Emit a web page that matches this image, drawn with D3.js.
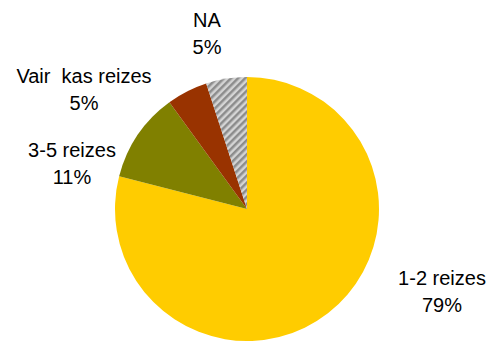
<!DOCTYPE html>
<html>
<head>
<meta charset="utf-8">
<script src="https://cdn.jsdelivr.net/npm/d3@7/dist/d3.min.js"></script>
<style>
  html, body { margin: 0; padding: 0; background: #fff; }
  svg { display: block; }
  text { font-family: "Liberation Sans", Arial, sans-serif; fill: #000; }
</style>
</head>
<body>
<svg id="chart" width="490" height="344"></svg>
<script>
// Answer categories, in drawing order (clockwise from 12 o'clock)
const categories = ["1-2 reizes", "3-5 reizes", "Vair\u00a0 kas reizes", "NA"];
// Share of answers, percent
const values = [79, 11, 5, 5];
const colors = ["#FFCC00", "#808000", "#993300", "url(#hatch)"];
// Label anchor points (centre of the two-line label, baseline of first line)
const labelPos = [[442, 285], [72, 157], [84, 83], [207, 27]];

const svg = d3.select("#chart");
const cx = 247, cy = 209, r = 132;

// Grey diagonal hatch for the NA slice
const defs = svg.append("defs");
const pat = defs.append("pattern")
  .attr("id", "hatch")
  .attr("patternUnits", "userSpaceOnUse")
  .attr("width", 5).attr("height", 5)
  .attr("patternTransform", "rotate(45)");
pat.append("rect").attr("width", 5).attr("height", 5).attr("fill", "#d4d4d4");
pat.append("rect").attr("width", 2.5).attr("height", 5).attr("fill", "#8c8c8c");

const pie = d3.pie().sort(null).value(d => d)
  .startAngle(0).endAngle(2 * Math.PI);
const arc = d3.arc().innerRadius(0).outerRadius(r);

const g = svg.append("g").attr("transform", `translate(${cx},${cy})`);
g.selectAll("path")
  .data(pie(values))
  .join("path")
  .attr("d", arc)
  .attr("fill", (d, i) => colors[i]);

// Two-line labels: category name and percentage
const lab = svg.append("g").selectAll("text")
  .data(categories)
  .join("text")
  .attr("text-anchor", "middle")
  .attr("font-size", 20)
  .attr("x", (d, i) => labelPos[i][0])
  .attr("y", (d, i) => labelPos[i][1])
  .style("white-space", "pre");
lab.append("tspan")
  .attr("x", (d, i) => labelPos[i][0])
  .text(d => d);
lab.append("tspan")
  .attr("x", (d, i) => labelPos[i][0])
  .attr("dy", 27)
  .text((d, i) => values[i] + "%");
</script>
</body>
</html>
